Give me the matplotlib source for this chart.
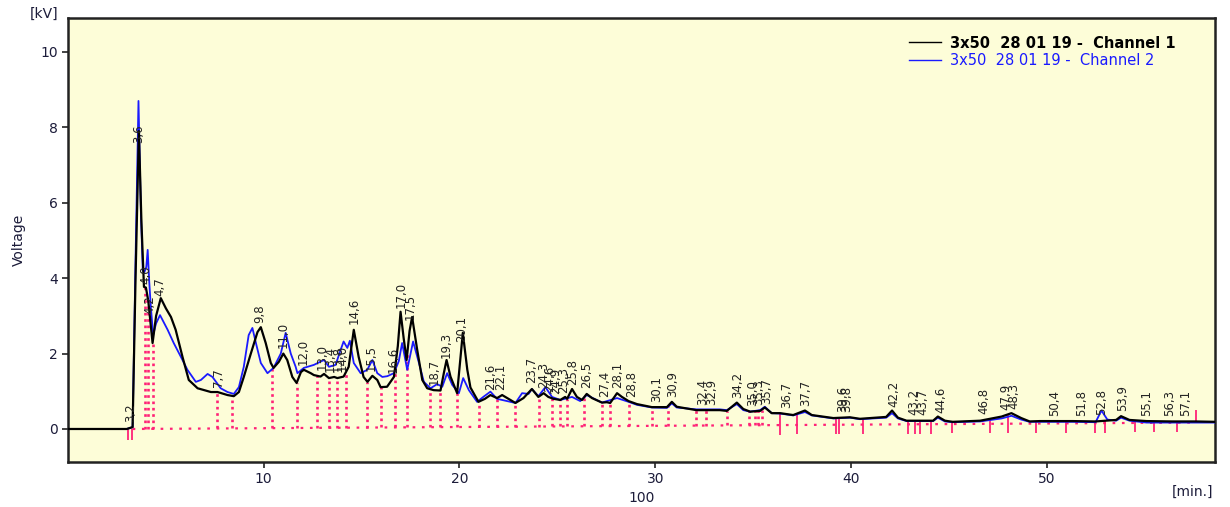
import numpy as np
import matplotlib
matplotlib.use("Agg")
import matplotlib.pyplot as plt

# chromatogram traces, (time [min], voltage [kV])
ch1_points = [
    (0.0, 0.0), (3.0, 0.0), (3.3, 0.05), (3.45, 4.0), (3.62, 7.9), (3.75, 5.5), (3.88, 3.77),
    (3.98, 3.75), (4.1, 3.4), (4.32, 2.28), (4.5, 3.0), (4.74, 3.47), (5.0, 3.2), (5.26, 2.97),
    (5.5, 2.63), (5.85, 1.91), (6.17, 1.3), (6.62, 1.08), (7.3, 0.98), (7.64, 0.98), (8.15, 0.9),
    (8.47, 0.87), (8.73, 0.98), (8.98, 1.38), (9.34, 2.0), (9.68, 2.57), (9.85, 2.7), (10.1, 2.28),
    (10.36, 1.75), (10.5, 1.62), (10.77, 1.78), (11.0, 2.0), (11.2, 1.83), (11.46, 1.38),
    (11.68, 1.22), (11.9, 1.51), (12.05, 1.57), (12.4, 1.48), (12.56, 1.43), (12.9, 1.39),
    (13.08, 1.46), (13.33, 1.35), (13.6, 1.38), (13.76, 1.35), (14.08, 1.39), (14.34, 1.65),
    (14.6, 2.63), (14.85, 1.91), (15.1, 1.38), (15.3, 1.25), (15.55, 1.41), (15.8, 1.3),
    (15.97, 1.11), (16.3, 1.12), (16.65, 1.38), (16.85, 2.2), (16.99, 3.11), (17.15, 2.4),
    (17.3, 1.83), (17.45, 2.6), (17.58, 2.97), (17.84, 2.1), (18.1, 1.3), (18.35, 1.08),
    (18.68, 1.03), (19.03, 1.02), (19.2, 1.48), (19.34, 1.83), (19.54, 1.39), (19.88, 0.95),
    (20.0, 1.6), (20.17, 2.55), (20.4, 1.57), (20.56, 1.1), (20.97, 0.72), (21.3, 0.8),
    (21.58, 0.9), (21.92, 0.82), (22.18, 0.9), (22.86, 0.69), (23.27, 0.82), (23.7, 1.06),
    (24.03, 0.85), (24.3, 0.95), (24.54, 0.85), (24.8, 0.8), (25.15, 0.77), (25.4, 0.85),
    (25.5, 0.8), (25.75, 1.06), (26.0, 0.85), (26.26, 0.77), (26.5, 0.93), (26.77, 0.82),
    (27.28, 0.7), (27.53, 0.71), (27.7, 0.69), (28.05, 0.95), (28.3, 0.85), (28.64, 0.74),
    (29.07, 0.66), (29.83, 0.58), (30.6, 0.58), (30.85, 0.72), (31.1, 0.59), (32.1, 0.5),
    (33.3, 0.5), (33.66, 0.48), (34.17, 0.7), (34.5, 0.53), (34.85, 0.46), (35.36, 0.48),
    (35.6, 0.57), (35.95, 0.42), (36.38, 0.42), (37.05, 0.37), (37.65, 0.49), (38.0, 0.37),
    (39.1, 0.29), (39.95, 0.31), (40.46, 0.27), (41.8, 0.32), (42.1, 0.49), (42.4, 0.3),
    (42.84, 0.22), (44.2, 0.22), (44.44, 0.33), (44.8, 0.22), (45.2, 0.19), (46.6, 0.22),
    (47.7, 0.33), (48.2, 0.42), (48.7, 0.29), (49.13, 0.2), (49.64, 0.21), (51.33, 0.21),
    (52.5, 0.2), (53.55, 0.24), (53.8, 0.34), (54.23, 0.24), (55.1, 0.21), (56.4, 0.2),
    (57.6, 0.2), (58.6, 0.19),
]

ch2_points = [
    (0.0, 0.0), (3.0, 0.0), (3.3, 0.05), (3.45, 4.5), (3.6, 8.7), (3.72, 5.8), (3.82, 4.2),
    (3.9, 4.16), (4.0, 4.3), (4.07, 4.75), (4.15, 3.9), (4.23, 3.24), (4.35, 2.5), (4.5, 2.8),
    (4.7, 3.02), (5.09, 2.63), (5.4, 2.28), (5.77, 1.91), (6.1, 1.57), (6.53, 1.25), (6.79, 1.3),
    (7.13, 1.46), (7.38, 1.38), (7.8, 1.08), (8.15, 0.98), (8.47, 0.93), (8.73, 1.11),
    (8.98, 1.65), (9.23, 2.49), (9.42, 2.68), (9.6, 2.28), (9.85, 1.75), (10.19, 1.48),
    (10.5, 1.62), (10.87, 2.0), (11.12, 2.55), (11.38, 2.0), (11.63, 1.65), (11.72, 1.48),
    (12.05, 1.62), (12.56, 1.7), (13.08, 1.83), (13.33, 1.65), (13.67, 1.7), (13.93, 2.1),
    (14.08, 2.32), (14.27, 2.15), (14.4, 2.34), (14.6, 1.75), (14.95, 1.48), (15.29, 1.57),
    (15.55, 1.83), (15.8, 1.48), (16.06, 1.38), (16.31, 1.4), (16.65, 1.48), (16.9, 1.8),
    (17.07, 2.28), (17.33, 1.57), (17.63, 2.32), (17.93, 1.75), (18.18, 1.25), (18.52, 1.08),
    (18.86, 1.19), (19.12, 1.12), (19.37, 1.48), (19.63, 1.17), (19.97, 0.95), (20.19, 1.35),
    (20.48, 1.03), (20.9, 0.72), (21.24, 0.86), (21.58, 0.99), (21.92, 0.8), (22.86, 0.69),
    (23.2, 0.95), (23.53, 0.93), (23.7, 1.06), (24.03, 0.87), (24.39, 1.11), (24.73, 0.85),
    (25.15, 0.77), (25.75, 0.85), (26.17, 0.74), (26.5, 0.9), (27.28, 0.7), (28.05, 0.82),
    (28.64, 0.72), (29.07, 0.64), (29.83, 0.57), (30.6, 0.56), (30.85, 0.68), (31.1, 0.57),
    (32.1, 0.52), (33.3, 0.52), (33.66, 0.5), (34.17, 0.66), (34.5, 0.5), (34.85, 0.46),
    (35.36, 0.5), (35.6, 0.59), (35.95, 0.42), (36.38, 0.41), (37.05, 0.36), (37.65, 0.45),
    (38.0, 0.36), (39.1, 0.28), (39.95, 0.3), (40.46, 0.26), (41.8, 0.3), (42.1, 0.42),
    (42.4, 0.28), (42.84, 0.21), (44.2, 0.21), (44.44, 0.3), (44.8, 0.2), (45.2, 0.18),
    (46.6, 0.2), (47.7, 0.28), (48.2, 0.35), (48.7, 0.25), (49.13, 0.19), (51.33, 0.19),
    (52.5, 0.18), (52.8, 0.49), (53.1, 0.25), (53.55, 0.22), (53.8, 0.3), (54.23, 0.22),
    (55.1, 0.17), (56.4, 0.17), (57.6, 0.17), (58.6, 0.17),
]

# retention times printed above the peaks
peak_times = [3.2, 3.6, 4.0, 4.2, 4.7, 7.7, 9.8, 11.0, 12.0, 13.0, 13.4, 13.8, 14.0, 14.6,
              15.5, 16.6, 17.0, 17.5, 18.7, 19.3, 20.1, 21.6, 22.1, 23.7, 24.3, 24.6, 24.9,
              25.3, 25.8, 26.5, 27.4, 28.1, 28.8, 30.1, 30.9, 32.4, 32.9, 34.2, 35.0, 35.3,
              35.7, 36.7, 37.7, 39.6, 39.8, 42.2, 43.2, 43.7, 44.6, 46.8, 47.9, 48.3, 50.4,
              51.8, 52.8, 53.9, 55.1, 56.3, 57.1]

# integration boundaries (pink markers)
bound_times = [3.04, 3.25, 3.93, 4.07, 4.32, 7.6, 8.4, 10.44, 11.68, 12.74, 13.33, 13.72,
               14.18, 15.29, 15.97, 16.73, 17.33, 18.48, 19.03, 19.88, 20.99, 21.92, 22.86,
               24.08, 24.73, 25.15, 25.5, 26.34, 27.28, 27.67, 28.64, 29.83, 30.65, 32.09,
               32.57, 33.66, 34.81, 35.1, 35.27, 35.44, 36.38, 37.23, 39.23, 39.4, 40.6,
               42.92, 43.27, 43.52, 44.1, 45.14, 47.13, 48.0, 49.47, 51.0, 52.45, 52.96,
               54.49, 55.5, 56.65]
end_time = 57.64
baseline_start = (3.3, 0.0)
baseline_end = (57.6, 0.17)

legend_labels = ["3x50  28 01 19 -  Channel 1", "3x50  28 01 19 -  Channel 2"]

PINK = "#ff2277"
TXT = "#1c1c3a"

t1, v1 = np.array(ch1_points).T
t2, v2 = np.array(ch2_points).T


def baseline(t):
    return np.interp(t, [baseline_start[0], baseline_end[0]], [baseline_start[1], baseline_end[1]])


fig = plt.figure(figsize=(12.3, 5.07), dpi=100)
ax = fig.add_axes([0.0553, 0.0888, 0.9325, 0.8757])
ax.set_facecolor("#fdfdd8")

# baseline + boundary markers
bx = np.array([baseline_start[0], baseline_end[0]])
ax.plot(bx, baseline(bx), color=PINK, lw=1.6, ls=(0, (1.2, 3.0)), zorder=2)
for b in bound_times:
    top = np.interp(b, t1, v1)
    base = baseline(b)
    if b < 3.5:
        ax.vlines(b, -0.3, 0.0, color=PINK, lw=1.3, zorder=2)
    elif b < 36:
        ax.vlines(b, base, top, color=PINK, lw=1.9, ls=(0, (1, 1.4)), zorder=2)
    else:
        ax.vlines(b, base - 0.25, top, color=PINK, lw=1.3, zorder=2)
end_top = np.interp(end_time, t1, v1)
ax.vlines(end_time, end_top, end_top + 0.3, color=PINK, lw=1.3, zorder=2)

l1, = ax.plot(t1, v1, color="black", lw=1.6, zorder=4, label=legend_labels[0],
              solid_joinstyle="round")
l2, = ax.plot(t2, v2, color="#1a1aff", lw=1.3, zorder=3, label=legend_labels[1],
              solid_joinstyle="round")

for pt in peak_times:
    y = np.interp(pt, t1, v1)
    ax.annotate(f"{pt:.1f}".replace(".", ","), (pt, y), xytext=(0, 4),
                textcoords="offset points", rotation=90, ha="center", va="bottom",
                fontsize=8.5, color="#222222", zorder=5)

ax.set_xlim(0, 58.6)
ax.set_ylim(-0.875, 10.9)
ax.set_xticks([10, 20, 30, 40, 50])
ax.set_yticks([0, 2, 4, 6, 8, 10])
ax.tick_params(direction="out", length=4, width=1.2, labelsize=10, colors="#222222",
               labelcolor=TXT)
for sp in ax.spines.values():
    sp.set_linewidth(1.8)
    sp.set_color("#222222")

ax.set_ylabel("Voltage", fontsize=10, color=TXT, labelpad=10)
ax.set_xlabel("100", fontsize=10, color=TXT, labelpad=3)
fig.text(44 / 1230, 1 - 14 / 507, "[kV]", ha="center", va="center", fontsize=10, color=TXT)
fig.text(1213 / 1230, 1 - 492 / 507, "[min.]", ha="right", va="center", fontsize=10, color=TXT)

leg = ax.legend(handles=[l1, l2], loc="upper left", bbox_to_anchor=(0.722, 0.99),
                frameon=False, handlelength=2.2, handletextpad=0.6, labelspacing=0.2,
                prop={"family": "DejaVu Sans", "size": 10.5})
texts = leg.get_texts()
texts[0].set_fontweight("bold")
texts[0].set_color("black")
texts[1].set_color("#1a1aff")
for h in leg.legend_handles:
    h.set_linewidth(1.0)

fig.savefig("out.png", dpi=100)
